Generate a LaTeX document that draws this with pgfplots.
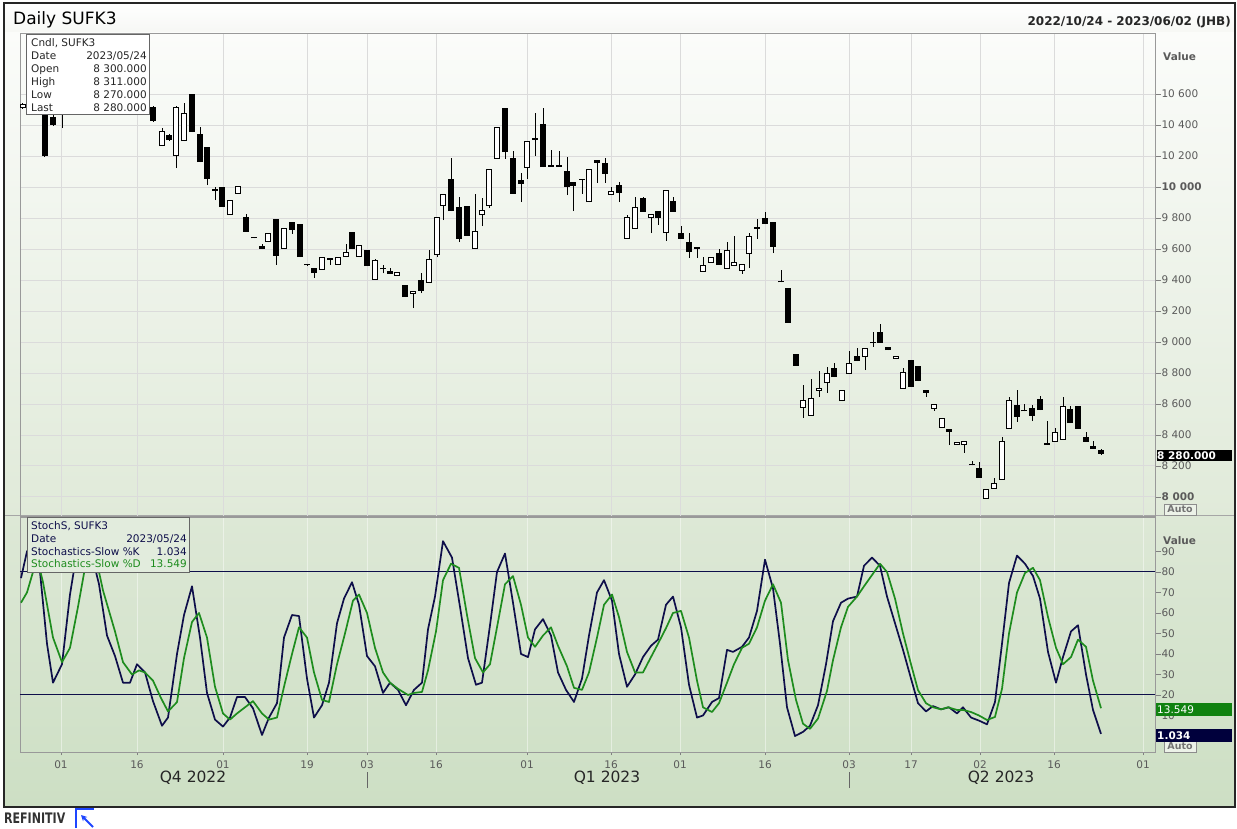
\documentclass[border=0pt]{standalone}
\usepackage{pgfplots}
\pgfplotsset{compat=1.18}
\usepackage{pgfplotstable}
\usetikzlibrary{arrows.meta}
\usepackage{graphicx}
\usepackage{fontspec}
\setmainfont{DejaVu Sans}
\definecolor{navyK}{HTML}{0E0E4A}
\definecolor{greenD}{HTML}{1E8C1E}
\definecolor{tickgray}{HTML}{5A5A5A}
\definecolor{mainbot}{RGB}{224,234,217}
\definecolor{maintop}{RGB}{251,252,250}
\definecolor{lowtop}{RGB}{221,232,214}
\definecolor{lowbot}{RGB}{205,223,196}
\definecolor{titlebot}{RGB}{246,247,244}
\definecolor{stochbox}{RGB}{226,236,221}
\definecolor{autobox}{RGB}{236,242,232}
\definecolor{navybox}{RGB}{0,0,60}
\definecolor{greenbox}{RGB}{16,130,16}
\definecolor{logoblue}{RGB}{30,70,255}

\pgfplotstableread{
x o h l c
23 10510 10540 10505 10535
31 10560 10650 10540 10600
38 10600 10620 10490 10520
45 10490 10500 10195 10200
53 10450 10470 10395 10400
62 10480 10520 10380 10500
70 10500 10580 10480 10560
77 10560 10640 10540 10620
85 10620 10680 10600 10650
92 10650 10670 10580 10600
100 10600 10620 10540 10560
108 10560 10580 10500 10530
115 10530 10550 10480 10500
123 10500 10520 10470 10490
130 10490 10540 10475 10520
138 10520 10540 10490 10510
145 10510 10530 10480 10500
153 10516 10520 10420 10426
162 10264 10380 10264 10361
169 10335 10340 10300 10303
176 10200 10520 10122 10516
184 10297 10542 10297 10477
192 10600 10600 10355 10355
200 10342 10387 10161 10161
207 10258 10258 10013 10052
215 9990 10000 9915 9975
222 10000 10000 9871 9871
230 9819 9916 9819 9916
238 9955 10006 9955 10006
246 9806 9826 9710 9710
254 9675 9675 9668 9668
262 9622 9635 9600 9600
268 9645 9703 9645 9703
276 9794 9794 9497 9555
284 9600 9735 9600 9735
292 9774 9774 9697 9723
300 9761 9761 9548 9548
307 9500 9500 9494 9494
314 9477 9477 9413 9445
322 9465 9548 9465 9548
330 9542 9542 9497 9529
338 9497 9548 9497 9548
346 9548 9632 9548 9580
352 9710 9710 9600 9600
359 9548 9626 9548 9626
367 9594 9594 9490 9490
375 9400 9535 9400 9529
383 9475 9500 9442 9468
390 9458 9475 9439 9439
397 9426 9452 9426 9452
405 9368 9368 9290 9290
413 9310 9329 9219 9329
421 9400 9445 9316 9329
429 9381 9594 9381 9535
437 9561 9806 9548 9806
443 9877 9955 9787 9955
451 10052 10187 9845 9845
459 9871 9935 9645 9665
467 9877 9877 9684 9684
475 9600 9955 9600 9716
482 9819 9929 9748 9852
489 9877 10116 9865 10116
497 10181 10387 10181 10387
505 10510 10510 10181 10226
513 10187 10232 9955 9955
521 10045 10090 9903 10019
527 10123 10297 10052 10297
535 10315 10477 10200 10305
543 10406 10510 10129 10129
551 10140 10239 10130 10130
559 10140 10232 10130 10130
567 10103 10194 9948 10000
573 10032 10032 9845 10006
582 10052 10052 9955 10045
589 9903 10116 9903 10116
597 10174 10174 10026 10155
605 10155 10187 10026 10084
611 9948 10000 9948 9974
619 10013 10032 9903 9961
627 9665 9819 9665 9806
635 9729 9935 9729 9871
643 9929 9935 9839 9839
651 9800 9826 9703 9826
658 9845 9845 9755 9800
666 9703 9981 9652 9981
673 9910 9935 9839 9839
681 9703 9748 9665 9665
689 9645 9703 9542 9581
697 9613 9613 9542 9603
703 9452 9548 9452 9497
711 9510 9548 9510 9548
719 9574 9600 9497 9497
727 9471 9645 9471 9594
734 9490 9684 9490 9516
742 9458 9503 9439 9503
749 9568 9703 9477 9684
757 9738 9794 9665 9732
765 9800 9839 9761 9761
773 9774 9774 9574 9613
781 9392 9465 9385 9385
788 9348 9348 9123 9123
796 8923 8923 8845 8845
803 8574 8723 8510 8626
811 8523 8761 8523 8639
819 8684 8813 8645 8703
827 8735 8839 8671 8800
834 8832 8865 8774 8774
842 8619 8690 8619 8690
849 8794 8942 8794 8865
857 8910 8961 8877 8877
865 8903 8961 8819 8961
873 8997 9065 8968 8991
880 9065 9116 8994 8994
888 8968 8968 8948 8948
896 8890 8910 8890 8910
903 8697 8832 8697 8806
911 8884 8884 8710 8710
918 8845 8845 8748 8748
926 8690 8690 8645 8671
934 8568 8600 8555 8600
942 8445 8510 8445 8510
949 8439 8439 8335 8419
957 8335 8355 8335 8355
964 8335 8361 8284 8361
972 8209 8232 8203 8203
979 8187 8226 8123 8123
986 7987 8052 7987 8052
994 8052 8123 8052 8090
1002 8110 8387 8110 8361
1009 8439 8645 8439 8626
1017 8594 8690 8484 8516
1024 8558 8600 8552 8552
1032 8574 8594 8490 8523
1040 8632 8652 8561 8561
1047 8348 8490 8335 8335
1055 8355 8445 8355 8419
1063 8368 8645 8368 8587
1070 8568 8587 8477 8477
1078 8587 8587 8439 8439
1086 8387 8419 8355 8355
1093 8329 8361 8310 8310
1101 8300 8311 8270 8280
}\candles

\pgfplotstableread{
x v
21 77
27 90
33 94
40 80
47 45
53 26
62 35
70 69
77 90
85 95
92 88
99 74
107 49
115 39
123 26
130 26
137 35
145 31
153 17
162 5
168 9
177 40
184 59
192 73
200 48
207 21
215 8
223 4.6
230 9
237 19
245 19
253 13.5
262 0.5
269 9
277 16
284 48
292 59
299 58.5
307 28
314 9
322 15
329 26
337 55
344 67
352 75
359 64
367 39
375 34
383 21
390 26
398 22.5
406 15
414 22.5
422 26
428 52
435 68
443 95
452 87
460 63
468 38
476 25
482 26
490 54
497 80
505 89
513 65
521 40
528 38.5
535 52
543 57
551 49
558 31
566 22.5
574 16.6
582 28
589 49
597 70
604 76
612 66
619 40
627 24
635 30
643 38.5
651 44
658 47
666 64
673 68
681 53
689 25
697 9
703 10
712 16.6
719 18.5
727 42
733 41
742 43.5
749 48
757 61
765 86
773 72
780 45
787 14
795 0
803 2
810 5
818 15
826 35
833 56
841 65
848 67
857 68
864 83
872 87
880 83
887 68
895 55
903 42
911 28
918 16
926 12
933 14.6
941 13
949 14
957 11
963 14
971 9
979 7.5
987 5.7
995 16.6
1002 45
1009 74.6
1017 88
1025 84
1033 78
1040 67
1048 41
1056 26
1063 38.5
1071 51
1078 54
1086 30
1093 12.7
1101 1.034
}\stochK

\pgfplotstableread{
x v
21 65
27 70
33 80
38 85
43 75
53 48
62 36
70 43
78 63
85 82
92 88
99 80
103 71
115 51
123 36
132 30
139 32
145 31
153 27
161 18.5
168 12
177 16.5
184 38
192 55.6
199 60
207 48
215 24
223 11
230 8
237 11
245 14
253 17
262 11
269 8
277 9
284 24
292 40
299 53
307 48
314 31
322 17.6
329 16.6
337 35
345 50
353 66
359 69
367 60
375 43
383 31
390 26
398 23
408 20
414 21
422 21.5
428 32
436 51
443 76
451 84
459 82
467 59
475 38
483 31
490 35
497 53
505 74
513 78
521 64
528 48
535 43.5
543 49
551 53
558 44
567 34
574 23.5
582 22.5
589 31
597 48
604 64
612 69
619 58
627 41
635 31
643 31
651 38.5
658 45
666 52.6
673 60
681 61
689 48
697 27
703 14
712 11.7
719 16
727 26
734 35
742 43
749 45
757 53
765 66
773 74
781 65
788 37
796 17.6
803 6
810 3.5
818 8.5
827 22
833 37
841 53
848 63
857 68
864 73
872 78.5
880 84
887 80
895 67
903 50
911 35
918 22.4
926 16
933 14
941 13
948 14
957 12.7
963 12.7
971 11.7
979 10
987 7.8
995 9.3
1002 23
1009 50
1017 70
1025 79.5
1033 82
1040 76
1048 58
1056 43
1063 35
1071 38.5
1078 47
1086 43.5
1093 27
1101 13.549
}\stochD

\newcommand{\fs}[1]{\fontsize{#1}{#1}\selectfont}

\begin{document}
\begin{tikzpicture}[x=1pt,y=1pt]
\useasboundingbox (0,0) rectangle (1237,828);
\fill[white] (0,0) rectangle (1237,828);
% panel backgrounds
\shade[top color=white, bottom color=titlebot] (4,795) rectangle (1235,825);
\shade[top color=maintop, bottom color=mainbot] (4,312) rectangle (1235,795);
\shade[top color=lowtop, bottom color=lowbot] (4,21) rectangle (1235,312);
\draw[black!35, line width=1pt] (4,312) -- (1235,312);

% ===== main price panel =====
\begin{axis}[
  at={(20pt,312pt)}, anchor=south west,
  width=1135pt, height=483pt, scale only axis,
  xmin=20, xmax=1155, ymin=7877, ymax=10994,
  scaled y ticks=false, scaled x ticks=false,
  axis line style={draw=black!40, line width=0.8pt},
  xtick={61,137,223,307,367,436,527,611,680,765,849,911,980,1054,1143},
  xticklabels={}, xmajorticks=false,
  ytick={8000,8200,8400,8600,8800,9000,9200,9400,9600,9800,10000,10200,10400,10600},
  yticklabels={{\bfseries 8 000},8 200,8 400,8 600,8 800,9 000,9 200,9 400,9 600,9 800,{\bfseries 10 000},10 200,10 400,10 600},
  ytick pos=right, yticklabel pos=right,
  tick align=outside, major tick length=6pt,
  tick style={black!50, line width=0.8pt},
  yticklabel style={anchor=west, font=\fs{10.5}, text=tickgray, xshift=-3pt},
  /pgf/number format/assume math mode=true,
  grid=major, major grid style={draw=black!14, line width=0.9pt},
]
\addplot[draw=none, mark=none, forget plot,
  error bars/.cd, y dir=plus, y explicit, error mark=none,
  error bar style={draw=black, line width=1pt}]
  table[x=x, y=l, y error expr={\thisrow{h}-\thisrow{l}}] {\candles};
\addplot[draw=none, mark=none, forget plot,
  error bars/.cd, y dir=plus, y explicit, error mark=none,
  error bar style={draw=black, line width=5.8pt}]
  table[x=x, y expr={min(\thisrow{o},\thisrow{c})}, y error expr={max(abs(\thisrow{c}-\thisrow{o}),8)}] {\candles};
\addplot[draw=none, mark=none, forget plot,
  restrict expr to domain={\thisrow{c}-\thisrow{o}}{16:100000},
  error bars/.cd, y dir=plus, y explicit, error mark=none,
  error bar style={draw=white, line width=3.8pt}]
  table[x=x, y expr={\thisrow{o}+6.45}, y error expr={\thisrow{c}-\thisrow{o}-12.9}] {\candles};
\end{axis}

% ===== stochastic panel =====
\begin{axis}[
  at={(20pt,76pt)}, anchor=south west,
  width=1135pt, height=235pt, scale only axis,
  xmin=20, xmax=1155, ymin=-7.8, ymax=106.8,
  scaled y ticks=false, scaled x ticks=false,
  axis line style={draw=black!40, line width=0.8pt},
  xtick={61,137,223,307,367,436,527,611,680,765,849,911,980,1054,1143},
  xticklabels={01,16,01,19,03,16,01,16,01,16,03,17,02,16,01},
  xtick pos=bottom, ytick pos=right, yticklabel pos=right,
  ytick={10,20,...,90},
  yticklabels={10,20,30,40,50,60,70,80,90},
  tick align=outside, major tick length=6pt,
  tick style={black!50, line width=0.8pt},
  xtick style={/pgfplots/major tick length=3pt},
  yticklabel style={anchor=west, font=\fs{10.5}, text=tickgray, xshift=-3pt},
  xticklabel style={font=\fs{10.5}, text=tickgray, yshift=1pt},
  /pgf/number format/assume math mode=true,
  xmajorgrids=true, major grid style={draw=white, opacity=0.45, line width=0.9pt},
]
\addplot[navyK, line width=1pt, forget plot] coordinates {(20,80) (1155,80)};
\addplot[navyK, line width=1pt, forget plot] coordinates {(20,20) (1155,20)};
\addplot[navyK, line width=1.7pt, line join=round] table[x=x, y=v] {\stochK};
\addplot[greenD, line width=1.7pt, line join=round] table[x=x, y=v] {\stochD};
\end{axis}

% ===== frame =====
\draw[black!85, line width=2.5pt] (4,21) rectangle (1235,825);

% ===== titles =====
\node[anchor=base west, font=\fs{17}, inner sep=0pt] at (13,803) {Daily SUFK3};
\node[anchor=base east, font=\bfseries\fs{12}, inner sep=0pt, text=black!85] at (1231,802) {2022/10/24 - 2023/06/02 (JHB)};

% candle info box
\draw[fill=white, draw=black!60, line width=1pt] (26,713) rectangle (149,793);
\begin{scope}[every node/.style={inner sep=0pt, font=\fs{10.5}, text=black!85}]
\node[anchor=base west] at (31,781) {Cndl, SUFK3};
\node[anchor=base west] at (31,768) {Date};
\node[anchor=base east] at (147,768) {2023/05/24};
\node[anchor=base west] at (31,755) {Open};
\node[anchor=base east] at (147,755) {8 300.000};
\node[anchor=base west] at (31,742) {High};
\node[anchor=base east] at (147,742) {8 311.000};
\node[anchor=base west] at (31,729) {Low};
\node[anchor=base east] at (147,729) {8 270.000};
\node[anchor=base west] at (31,716) {Last};
\node[anchor=base east] at (147,716) {8 280.000};
\end{scope}

% stochastic info box
\draw[fill=stochbox, draw=black!60, line width=1pt] (27,255) rectangle (189,310);
\begin{scope}[every node/.style={inner sep=0pt, font=\fs{10.5}, text=navyK}]
\node[anchor=base west] at (31,298) {StochS, SUFK3};
\node[anchor=base west] at (31,285) {Date};
\node[anchor=base east] at (187,285) {2023/05/24};
\node[anchor=base west] at (31,272) {Stochastics-Slow \%K};
\node[anchor=base east] at (187,272) {1.034};
\node[anchor=base west, text=greenD] at (31,260) {Stochastics-Slow \%D};
\node[anchor=base east, text=greenD] at (187,260) {13.549};
\end{scope}

% axis captions
\node[anchor=west, font=\bfseries\fs{10.5}, text=tickgray, inner sep=0pt] at (1163,771) {Value};
\node[anchor=west, font=\bfseries\fs{10.5}, text=tickgray, inner sep=0pt] at (1163,287) {Value};

% Auto boxes
\draw[draw=black!45, fill=autobox] (1164,313) rectangle (1196,324);
\node[font=\bfseries\fs{9.5}, text=black!55, inner sep=0pt] at (1180,318.5) {Auto};
\draw[draw=black!45, fill=autobox] (1164,76) rectangle (1196,87);
\node[font=\bfseries\fs{9.5}, text=black!55, inner sep=0pt] at (1180,81.5) {Auto};

% last value boxes
\fill[black] (1157,367) rectangle (1232,378);
\node[anchor=west, font=\bfseries\fs{10.5}, text=white, inner sep=0pt] at (1157,372.5) {8 280.000};
\fill[greenbox] (1156,112) rectangle (1232,125);
\node[anchor=west, font=\fs{10.5}, text=white, inner sep=0pt] at (1157,118.5) {13.549};
\fill[navybox] (1156,86) rectangle (1232,99);
\node[anchor=west, font=\bfseries\fs{10.5}, text=white, inner sep=0pt] at (1157,92.5) {1.034};

% quarter labels
\node[font=\fs{15.5}, text=black!85, inner sep=0pt] at (193,50) {Q4 2022};
\node[font=\fs{15.5}, text=black!85, inner sep=0pt] at (607,50) {Q1 2023};
\node[font=\fs{15.5}, text=black!85, inner sep=0pt] at (1001,50) {Q2 2023};
\draw[black!60, line width=1pt] (367,40) -- (367,56);
\draw[black!60, line width=1pt] (849,40) -- (849,56);

% footer logo
\node[anchor=west, inner sep=0pt, text=black!80] at (4,9.5) {\scalebox{0.76}[1]{\bfseries\fs{14.5}REFINITIV}};
\draw[logoblue, line width=2pt] (76,0) -- (76,19) -- (94,19);
\draw[logoblue, line width=2pt, -{Stealth[length=6pt,width=6pt]}] (93,1) -- (81,13);
\end{tikzpicture}
\end{document}
